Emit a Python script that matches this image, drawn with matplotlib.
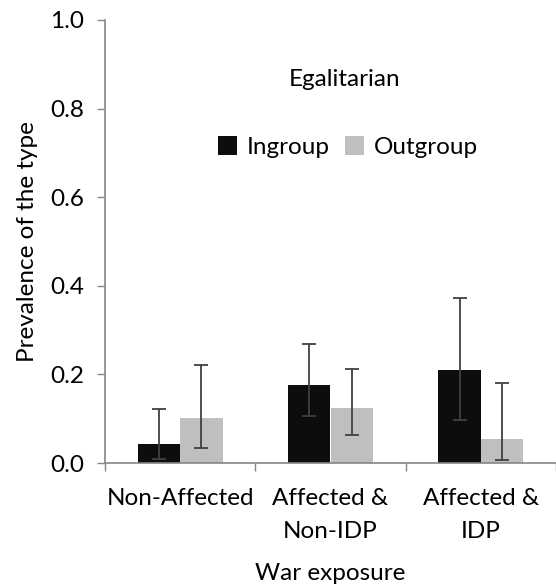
import numpy as np
import matplotlib
matplotlib.use('Agg')
import matplotlib.pyplot as plt

plt.rcParams['font.family'] = ['Lato', 'DejaVu Sans']

categories = ['Non-Affected', 'Affected &\nNon-IDP', 'Affected &\nIDP']
ingroup = [0.043, 0.176, 0.210]
ingroup_lo = [0.008, 0.107, 0.096]
ingroup_hi = [0.122, 0.268, 0.373]
outgroup = [0.102, 0.124, 0.054]
outgroup_lo = [0.034, 0.064, 0.007]
outgroup_hi = [0.221, 0.213, 0.181]

fs = 17.5
axis_col = '#868686'
err_col = '#404040'

fig = plt.figure(figsize=(5.56, 5.88), dpi=100)
ax = fig.add_axes([105/556, 1 - 463/588, 1 - 105/556, (463 - 20)/588])

x = np.arange(len(categories)) + 0.5
w = 0.283
ingroup = np.array(ingroup)
outgroup = np.array(outgroup)
in_err = [ingroup - np.array(ingroup_lo), np.array(ingroup_hi) - ingroup]
out_err = [outgroup - np.array(outgroup_lo), np.array(outgroup_hi) - outgroup]

ax.bar(x - w/2, ingroup, w, color='#0d0d0d', label='Ingroup', zorder=2)
ax.bar(x + w/2, outgroup, w, color='#bfbfbf', label='Outgroup', zorder=2)
ax.errorbar(x - w/2, ingroup, yerr=in_err, fmt='none', ecolor=err_col,
            elinewidth=1.3, capsize=5, capthick=1.3, zorder=3)
ax.errorbar(x + w/2, outgroup, yerr=out_err, fmt='none', ecolor=err_col,
            elinewidth=1.3, capsize=5, capthick=1.3, zorder=3)

ax.set_xlim(0, 3)
ax.set_ylim(0, 1.0)
ax.set_yticks([0, 0.2, 0.4, 0.6, 0.8, 1.0])
ax.set_yticklabels(['0.0', '0.2', '0.4', '0.6', '0.8', '1.0'], fontsize=fs)
ax.set_xticks(x)
ax.set_xticklabels(categories, fontsize=fs, linespacing=1.7)
ax.set_xticks([0, 1, 2, 3], minor=True)
ax.tick_params(axis='x', which='major', length=0, pad=18)
ax.tick_params(axis='x', which='minor', length=6, color=axis_col, width=1)
ax.tick_params(axis='y', length=6, color=axis_col, width=1, pad=9)

for s in ['top', 'right']:
    ax.spines[s].set_visible(False)
for s in ['left', 'bottom']:
    ax.spines[s].set_color(axis_col)
    ax.spines[s].set_linewidth(1.2)

ax.set_ylabel('Prevalence of the type', fontsize=fs, labelpad=9)
ax.set_xlabel('War exposure', fontsize=fs, labelpad=15)

fig.text(345/556, 1 - 80/588, 'Egalitarian', fontsize=fs, ha='center', va='center')
fig.legend(loc='center', bbox_to_anchor=(348/556, 1 - 147/588), ncol=2,
           frameon=False, fontsize=fs, handlelength=0.8, handleheight=0.8,
           handletextpad=0.4, columnspacing=0.6)

fig.savefig('out.png', dpi=100)
